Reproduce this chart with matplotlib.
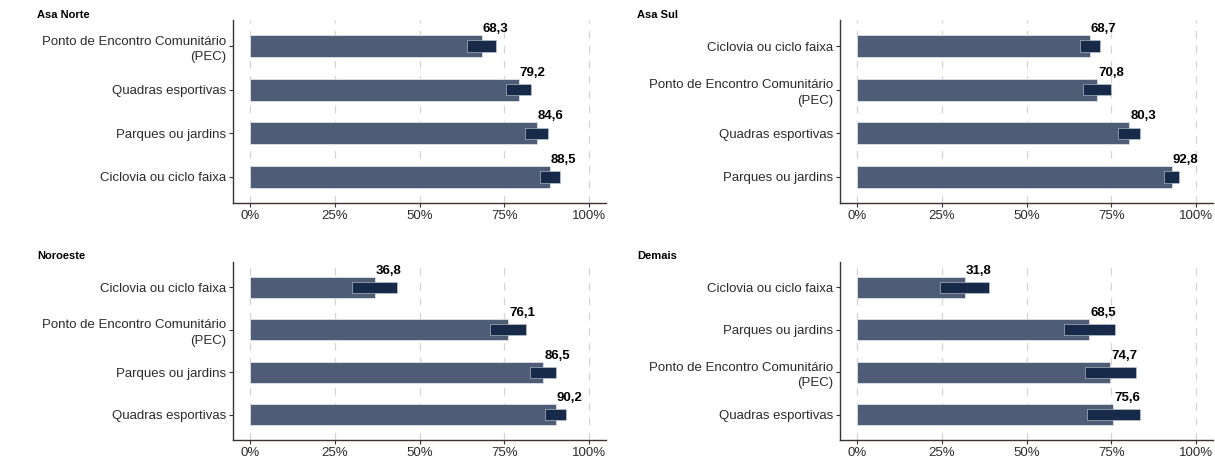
import numpy as np
import matplotlib.pyplot as plt

plt.rcParams['font.family'] = ['Liberation Sans', 'DejaVu Sans']

PEC = 'Ponto de Encontro Comunitário\n(PEC)'
QUA = 'Quadras esportivas'
PAR = 'Parques ou jardins'
CIC = 'Ciclovia ou ciclo faixa'

# categorias de cima para baixo em cada painel
asa_norte_cat = [PEC, QUA, PAR, CIC]
asa_norte_val = [68.3, 79.2, 84.6, 88.5]
asa_norte_low = [64.1, 75.6, 81.0, 85.6]
asa_norte_upp = [72.6, 82.8, 88.0, 91.3]

asa_sul_cat = [CIC, PEC, QUA, PAR]
asa_sul_val = [68.7, 70.8, 80.3, 92.8]
asa_sul_low = [65.8, 66.7, 77.0, 90.4]
asa_sul_upp = [71.6, 74.8, 83.5, 95.0]

noroeste_cat = [CIC, PEC, PAR, QUA]
noroeste_val = [36.8, 76.1, 86.5, 90.2]
noroeste_low = [30.2, 70.9, 82.6, 87.1]
noroeste_upp = [43.5, 81.3, 90.3, 93.3]

demais_cat = [CIC, PAR, PEC, QUA]
demais_val = [31.8, 68.5, 74.7, 75.6]
demais_low = [24.5, 61.0, 67.1, 67.9]
demais_upp = [39.0, 76.2, 82.3, 83.4]

paineis = [
    ('Asa Norte', asa_norte_cat, asa_norte_val, asa_norte_low, asa_norte_upp),
    ('Asa Sul', asa_sul_cat, asa_sul_val, asa_sul_low, asa_sul_upp),
    ('Noroeste', noroeste_cat, noroeste_val, noroeste_low, noroeste_upp),
    ('Demais', demais_cat, demais_val, demais_low, demais_upp),
]

cor_barra = '#4e5d75'
cor_ic = '#172a4a'
cor_eixo = '#3b3330'

fig = plt.figure(figsize=(12.15, 4.59), dpi=100)

# posições dos painéis [left, bottom, width, height]
pos = [
    [0.1918, 0.5577, 0.307, 0.3987],
    [0.6914, 0.5577, 0.307, 0.3987],
    [0.1918, 0.0414, 0.307, 0.3878],
    [0.6914, 0.0414, 0.307, 0.3878],
]
tit_pos = [(37 / 1215, 1 - 15 / 459), (637 / 1215, 1 - 15 / 459),
           (37 / 1215, 1 - 256 / 459), (637 / 1215, 1 - 256 / 459)]

for k, (titulo, cat, val, low, upp) in enumerate(paineis):
    ax = fig.add_axes(pos[k])
    n = len(cat)
    y = np.arange(n)[::-1]
    ax.barh(y, val, height=0.5, color=cor_barra, edgecolor='#dde1e8', linewidth=0.6, zorder=2)
    ax.barh(y, np.array(upp) - np.array(low), left=low, height=0.26,
            color=cor_ic, edgecolor='#c9cfd9', linewidth=0.4, zorder=3)
    for yi, v in zip(y, val):
        ax.text(v + 0.3, yi + 0.25, f'{v:.1f}'.replace('.', ','), ha='left', va='bottom',
                fontsize=9.5, fontweight='bold', color='black', zorder=4)
    ax.set_xlim(-5, 105)
    ax.set_ylim(-0.6, n - 0.4)
    ax.set_yticks(y)
    ax.set_yticklabels(cat, fontsize=9.5, color='#2b2b2b', linespacing=1.4)
    ax.set_xticks([0, 25, 50, 75, 100])
    ax.set_xticklabels(['0%', '25%', '50%', '75%', '100%'], fontsize=9.5, color='#2b2b2b')
    ax.grid(axis='x', linestyle=(0, (6, 6)), color='#d4d4d4', linewidth=0.9, zorder=0)
    ax.set_axisbelow(True)
    for s in ['top', 'right']:
        ax.spines[s].set_visible(False)
    for s in ['left', 'bottom']:
        ax.spines[s].set_color(cor_eixo)
        ax.spines[s].set_linewidth(1.0)
    ax.tick_params(axis='both', length=3, width=0.8, color=cor_eixo, pad=2)
    fig.text(tit_pos[k][0], tit_pos[k][1], titulo, fontsize=8, fontweight='bold',
             ha='left', va='center')

fig.savefig('out.png', dpi=100)
